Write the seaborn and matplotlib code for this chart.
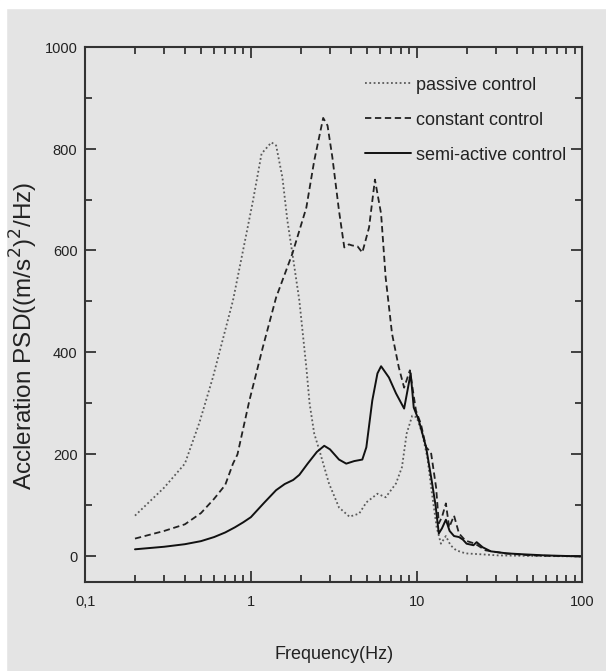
import matplotlib
matplotlib.use('Agg')
import matplotlib.pyplot as plt
import matplotlib.patches as mpatches
from matplotlib.ticker import MultipleLocator, LogLocator, NullFormatter
import pandas as pd
import seaborn as sns

# passive control (dotted)
f_passive = [0.2, 0.3, 0.4, 0.49, 0.59, 0.78, 0.94, 1.03, 1.16, 1.33, 1.42, 1.55, 1.66, 1.78,
             1.96, 2.16, 2.26, 2.41, 2.59, 2.96, 3.4, 3.93, 4.5, 4.97, 5.8, 6.5, 7.5, 8.15,
             8.7, 9.4, 10.0, 10.8, 11.6, 12.3, 13.2, 14.0, 15.0, 16.0, 17.3, 19.7, 25, 31, 50, 100]
psd_passive = [80, 135, 182, 263, 351, 502, 633, 698, 790, 812, 806, 743, 659, 594,
               502, 371, 300, 241, 208, 143, 96, 78, 84, 106, 123, 116, 143, 175,
               241, 276, 273, 241, 194, 129, 57, 25, 40, 22, 12, 6, 4, 2, 1, 0]

# constant control (dashed)
f_constant = [0.2, 0.3, 0.4, 0.5, 0.6, 0.7, 0.78, 0.83, 0.98, 1.18, 1.42, 1.78, 2.16, 2.41,
              2.73, 2.9, 3.1, 3.4, 3.66, 3.9, 4.07, 4.4, 4.7, 5.16, 5.6, 6.1, 6.5, 7.1, 7.8,
              8.4, 9.1, 9.9, 10.6, 11.4, 12.2, 13.1, 13.6, 14.2, 15.0, 15.7, 16.8, 18.0,
              19.7, 22.5, 26, 34, 49, 100]
psd_constant = [35, 50, 63, 85, 113, 140, 182, 200, 306, 410, 508, 594, 684, 776,
                860, 845, 783, 678, 606, 612, 610, 608, 596, 645, 739, 672, 547, 437, 371,
                331, 365, 286, 260, 214, 204, 135, 65, 77, 104, 57, 80, 45,
                31, 25, 12, 6, 2, 0]

# semi-active control (solid)
f_semi = [0.2, 0.3, 0.4, 0.5, 0.6, 0.7, 0.8, 0.9, 1.0, 1.2, 1.42, 1.6, 1.8, 1.96, 2.2, 2.5,
          2.77, 3.0, 3.4, 3.76, 4.2, 4.7, 4.97, 5.4, 5.8, 6.1, 6.8, 7.5, 8.4, 9.2, 9.6, 10.3,
          11.4, 12.3, 13.0, 13.6, 14.2, 15.0, 15.8, 16.8, 18, 19, 20, 22, 23, 25, 28, 35,
          45, 60, 100]
psd_semi = [14, 19, 24, 30, 38, 47, 57, 67, 77, 105, 130, 142, 150, 160, 182, 205,
            217, 210, 190, 182, 187, 190, 214, 306, 359, 373, 351, 320, 290, 359, 292, 267,
            214, 150, 100, 45, 55, 72, 50, 40, 38, 33, 25, 22, 28, 18, 10, 6,
            4, 2, 0]

series = [
    ('passive control', f_passive, psd_passive, '#5a5a5a', (0, (1, 1.4)), 1.3),
    ('constant control', f_constant, psd_constant, '#222222', (0, (3.5, 2)), 1.3),
    ('semi-active control', f_semi, psd_semi, '#111111', '-', 1.4),
]

sns.set_style('ticks')
plt.rcParams['font.family'] = ['Liberation Sans', 'DejaVu Sans']

grey = '#e4e4e4'
fig = plt.figure(figsize=(6.065, 6.715), dpi=100, facecolor=grey)
# white margins at top and left
fig.patches.append(mpatches.Rectangle((0, 1 - 8 / 671), 1, 8 / 671, transform=fig.transFigure,
                                      color='white', zorder=0))
fig.patches.append(mpatches.Rectangle((0, 0), 6 / 606, 1, transform=fig.transFigure,
                                      color='white', zorder=0))
ax = fig.add_axes([85 / 606, 1 - 582 / 671, 497 / 606, 535 / 671])
ax.set_facecolor(grey)

for name, f, v, c, ls, lw in series:
    df = pd.DataFrame({'f': f, 'psd': v})
    sns.lineplot(data=df, x='f', y='psd', ax=ax, color=c, linestyle=ls, linewidth=lw,
                 label=name, estimator=None, sort=False)

ax.set_xscale('log')
ax.set_xlim(0.1, 100)
ax.set_ylim(-50, 1000)
ax.set_xticks([0.1, 1, 10, 100])
ax.set_xticklabels(['0,1', '1', '10', '100'])
ax.xaxis.set_minor_locator(LogLocator(base=10, subs=range(2, 10)))
ax.xaxis.set_minor_formatter(NullFormatter())
ax.set_yticks([0, 200, 400, 600, 800, 1000])
ax.yaxis.set_minor_locator(MultipleLocator(100))

ax.tick_params(which='both', direction='in', top=True, right=True, colors='#333333',
               labelcolor='#222222', labelsize=10.5, width=1.3)
ax.tick_params(which='major', length=8)
ax.tick_params(which='minor', length=5)
ax.tick_params(axis='x', which='major', pad=9)
ax.tick_params(axis='y', which='major', pad=5.5)
for s in ax.spines.values():
    s.set_color('#333333')
    s.set_linewidth(1.5)

ax.set_xlabel('Frequency(Hz)', fontsize=13, color='#222222')
ax.xaxis.set_label_coords(0.5, -0.118)
ax.set_ylabel('Accleration PSD((m/s$^2$)$^2$/Hz)', fontsize=17.5, color='#222222')
ax.yaxis.set_label_coords(-0.09, 0.46)

leg = ax.legend(loc='upper right', bbox_to_anchor=(1.0, 0.975), frameon=False,
                fontsize=13, handlelength=2.5, handletextpad=0.3, labelspacing=1.0)
for t in leg.get_texts():
    t.set_color('#222222')

fig.savefig('out.png', dpi=100, facecolor=grey)
